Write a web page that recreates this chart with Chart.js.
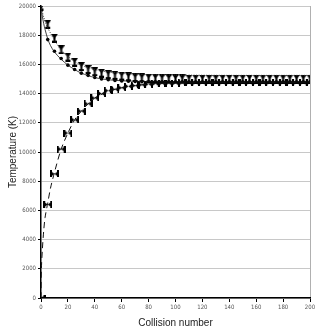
<!DOCTYPE html>
<html>
<head>
<meta charset="utf-8">
<script src="https://cdn.jsdelivr.net/npm/chart.js@4/dist/chart.umd.min.js"></script>
<style>
  html, body { margin: 0; padding: 0; background: #fff; }
  #wrap { width: 315px; height: 329px; }
</style>
</head>
<body>
<div id="wrap"><canvas id="tempChart" width="315" height="329"></canvas></div>
<script>
// collision numbers where the markers sit
const collisions = [0,5,10,15,20,25,30,35,40,45,50,55,60,65,70,75,80,85,90,95,100,
  105,110,115,120,125,130,135,140,145,150,155,160,165,170,175,180,185,190,195,200];

// triangle markers (upper series)
const triTemps = [20000,18750,17800,17000,16500,16150,15850,15650,15500,15400,15300,
  15250,15200,15150,15100,15080,15060,15050,15040,15030,15020,15010,15000,15000,15000,
  15000,15000,15000,15000,15000,15000,15000,15000,15000,15000,15000,15000,15000,15000,15000,15000];

// round markers (lower series)
const dotTemps = [20000,17700,16900,16400,15950,15650,15400,15250,15100,15000,14950,
  14900,14870,14850,14830,14820,14810,14800,14800,14800,14800,14800,14800,14800,14800,
  14800,14800,14800,14800,14800,14800,14800,14800,14800,14800,14800,14800,14800,14800,14800,14800];

// bow-tie markers (rising series)
const bowTemps = [0,6400,8500,10200,11300,12200,12800,13300,13700,14000,14200,14300,
  14400,14500,14550,14600,14650,14680,14700,14710,14720,14730,14740,14740,14750,14750,
  14750,14750,14750,14750,14750,14750,14750,14750,14750,14750,14750,14750,14750,14750,14750];

// fitted curves
const upperFitX = [0,1,2,3,5,7,10,15,20,25,30,40,50,60,80,100,140,200];
const upperFitY = [20000,19600,19250,18950,18500,18150,17650,17000,16550,16200,15950,15650,15500,15400,15300,15270,15250,15250];
const lowerFitX = [0,1,2,3,5,7,10,15,20,25,30,40,50,60,80,100,140,200];
const lowerFitY = [20000,19300,18800,18400,17750,17300,16850,16350,15950,15650,15400,15100,14950,14880,14820,14800,14800,14800];
const riseFitX = [0,0.3,1,2,3,5,7,10,15,20,25,30,35,40,50,60,80,100,140,200];
const riseFitY = [0,2000,3300,4600,5500,6500,7500,8600,10200,11300,12200,12800,13300,13700,14150,14400,14650,14720,14750,14750];

const xTicks = [0,20,40,60,80,100,120,140,160,180,200];
const yTicks = [0,2000,4000,6000,8000,10000,12000,14000,16000,18000,20000];

function pts(xs, ys) {
  return xs.map((x, i) => ({ x: x, y: ys[i] }));
}

// down triangle with a small error bar under it
function triMarker() {
  const c = document.createElement('canvas');
  c.width = 7; c.height = 9;
  const g = c.getContext('2d');
  g.fillStyle = '#000';
  g.beginPath();
  g.moveTo(0, 0); g.lineTo(7, 0); g.lineTo(3.5, 5.5); g.closePath();
  g.fill();
  g.fillRect(2.5, 4, 2, 4);
  g.fillRect(1, 7, 5, 2);
  return c;
}

// horizontal bow-tie with end bars
function bowMarker() {
  const c = document.createElement('canvas');
  c.width = 9; c.height = 7;
  const g = c.getContext('2d');
  g.fillStyle = '#000';
  g.beginPath();
  g.moveTo(0, 0); g.lineTo(4.5, 3.5); g.lineTo(0, 7); g.closePath();
  g.moveTo(9, 0); g.lineTo(4.5, 3.5); g.lineTo(9, 7); g.closePath();
  g.fill();
  g.fillRect(0, 0, 2, 7);
  g.fillRect(7, 0, 2, 7);
  return c;
}

const tickFont = { family: 'DejaVu Sans Condensed', size: 6 };
const titleFont = { family: 'Liberation Sans', size: 10 };

new Chart(document.getElementById('tempChart'), {
  type: 'scatter',
  data: {
    datasets: [
      { data: pts(upperFitX, upperFitY), showLine: true, pointRadius: 0,
        borderColor: '#333', borderWidth: 1, borderDash: [1, 1.5], tension: 0.3 },
      { data: pts(lowerFitX, lowerFitY), showLine: true, pointRadius: 0,
        borderColor: '#111', borderWidth: 0.8, tension: 0.3 },
      { data: pts(riseFitX, riseFitY), showLine: true, pointRadius: 0,
        borderColor: '#111', borderWidth: 1, borderDash: [6, 4], tension: 0.3 },
      { data: pts(collisions, dotTemps), pointStyle: 'circle', pointRadius: 1.8,
        backgroundColor: '#000', borderColor: '#000', borderWidth: 0 },
      { data: pts(collisions, bowTemps), pointStyle: bowMarker(), pointRadius: 4 },
      { data: pts(collisions, triTemps), pointStyle: triMarker(), pointRadius: 4 }
    ]
  },
  options: {
    responsive: false,
    animation: false,
    layout: { padding: { top: 6, right: 4, left: 7, bottom: 0 } },
    plugins: { legend: { display: false }, tooltip: { enabled: false } },
    scales: {
      x: {
        type: 'linear', min: 0, max: 200,
        afterBuildTicks: s => { s.ticks = xTicks.map(v => ({ value: v })); },
        afterFit: s => { s.height = 31; s.paddingRight = 0; s.paddingLeft = 0; },
        ticks: { font: tickFont, color: '#555', padding: 2, maxRotation: 0,
                 callback: v => String(v) },
        grid: {
          drawOnChartArea: true,
          color: ctx => (ctx.tick && ctx.tick.value === 200 ? '#b0b0b0' : 'rgba(0,0,0,0)'),
          tickColor: '#000', tickLength: 4, lineWidth: 1
        },
        border: { color: '#000', width: 1.5 },
        title: { display: true, text: 'Collision number', font: titleFont, color: '#222',
                 padding: { top: 4, bottom: 0 } }
      },
      y: {
        type: 'linear', min: 0, max: 20000,
        afterBuildTicks: s => { s.ticks = yTicks.map(v => ({ value: v })); },
        afterFit: s => { s.width = 34; s.paddingTop = 0; s.paddingBottom = 0; },
        ticks: { font: tickFont, color: '#555', padding: 2, callback: v => String(v) },
        grid: { color: '#c8c8c8', tickColor: '#000', tickLength: 3, lineWidth: 1 },
        border: { color: '#000', width: 1.5 },
        title: { display: true, text: 'Temperature (K)', font: titleFont, color: '#222',
                 padding: { top: 0, bottom: 2 } }
      }
    }
  }
});
</script>
</body>
</html>
